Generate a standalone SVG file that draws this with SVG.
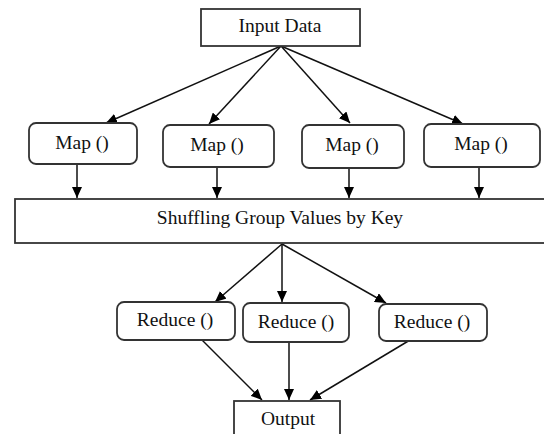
<svg xmlns="http://www.w3.org/2000/svg" width="544" height="434" viewBox="0 0 544 434">
<style>
.box{fill:#fff;stroke:#333;stroke-width:1.8}
.t{font-family:"Liberation Serif","Times New Roman",serif;font-size:19.5px;fill:#111;text-anchor:middle}
.c{stroke:#111;stroke-width:1.5;fill:none;marker-end:url(#ah)}
</style>
<defs>
<marker id="ah" markerUnits="userSpaceOnUse" markerWidth="12" markerHeight="10" refX="11" refY="5" orient="auto">
<path d="M0,0 L11,5 L0,10 z" fill="#000"/>
</marker>
</defs>
<rect width="544" height="434" fill="#fff"/>
<g id="connectors">
<line class="c" x1="281" y1="46" x2="106" y2="123"/>
<line class="c" x1="281" y1="46" x2="209" y2="124"/>
<line class="c" x1="281" y1="46" x2="350" y2="123"/>
<line class="c" x1="281" y1="46" x2="463" y2="124"/>
<line class="c" x1="77" y1="164" x2="77" y2="198"/>
<line class="c" x1="217" y1="167" x2="217" y2="198"/>
<line class="c" x1="349" y1="168" x2="349" y2="198"/>
<line class="c" x1="479" y1="167" x2="479" y2="198"/>
<line class="c" x1="282" y1="244" x2="215" y2="302"/>
<line class="c" x1="282" y1="244" x2="282" y2="302"/>
<line class="c" x1="282" y1="244" x2="386" y2="303"/>
<line class="c" x1="202" y1="340" x2="262" y2="400"/>
<line class="c" x1="289" y1="342" x2="289" y2="400"/>
<line class="c" x1="410" y1="340" x2="310" y2="400"/>
</g>
<g id="input">
<rect class="box" x="201" y="9" width="159" height="37"/>
<text class="t" x="280" y="32">Input Data</text>
</g>
<g id="map1">
<rect class="box" x="29" y="123" width="108" height="41" rx="7"/>
<text class="t" x="82" y="149">Map ()</text>
</g>
<g id="map2">
<rect class="box" x="163" y="125" width="111" height="42" rx="7"/>
<text class="t" x="217" y="151">Map ()</text>
</g>
<g id="map3">
<rect class="box" x="302" y="125" width="102" height="43" rx="7"/>
<text class="t" x="352" y="151">Map ()</text>
</g>
<g id="map4">
<rect class="box" x="424" y="124" width="116" height="43" rx="7"/>
<text class="t" x="481" y="150">Map ()</text>
</g>
<g id="shuffle">
<rect class="box" x="15" y="199" width="540" height="44"/>
<text class="t" x="280" y="224">Shuffling Group Values by Key</text>
</g>
<g id="reduce1">
<rect class="box" x="117" y="302" width="118" height="38" rx="7"/>
<text class="t" x="175" y="326">Reduce ()</text>
</g>
<g id="reduce2">
<rect class="box" x="243" y="303" width="106" height="39" rx="7"/>
<text class="t" x="296" y="328">Reduce ()</text>
</g>
<g id="reduce3">
<rect class="box" x="379" y="304" width="108" height="37" rx="7"/>
<text class="t" x="432" y="328">Reduce ()</text>
</g>
<g id="output">
<rect class="box" x="234" y="401" width="106" height="40"/>
<text class="t" x="288" y="425">Output</text>
</g>
</svg>
